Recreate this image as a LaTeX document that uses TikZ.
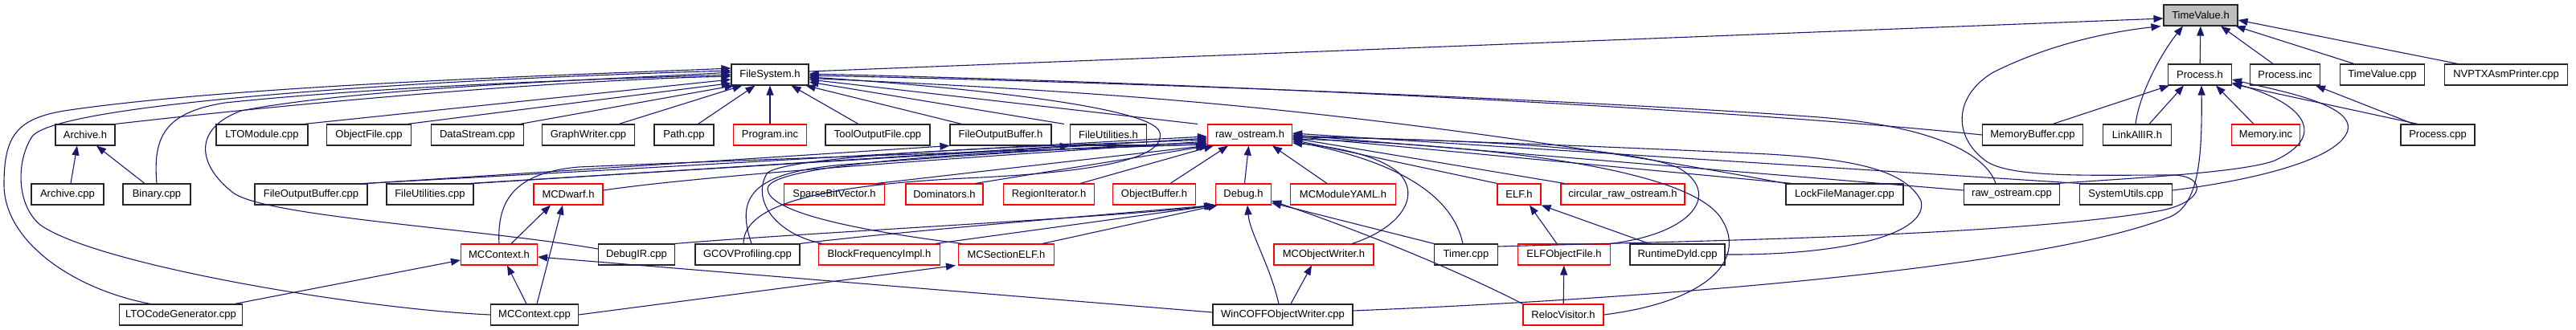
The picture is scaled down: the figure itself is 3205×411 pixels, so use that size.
\documentclass[tikz,border=0pt]{standalone}
\usepackage{fontspec}
\setmainfont{Liberation Sans}
\usetikzlibrary{arrows.meta,calc}
\definecolor{eb}{HTML}{191970}
\begin{document}
\begin{tikzpicture}[x=1pt,y=-1pt,
 nb/.style={draw=black!85, fill=white, line width=1.1pt, minimum height=26pt, inner sep=0pt, font=\fontsize{13}{15}\selectfont, minimum width=#1},
 rb/.style={nb=#1, draw=red},
 gb/.style={nb=#1, fill=black!25},
 e/.style={draw=eb, line width=1.1pt, -{Triangle[length=12pt,width=9pt]}}]
\useasboundingbox (0,0) rectangle (3205,411);
% row 1
\node[gb=92pt] (TV) at (2738,19) {TimeValue.h};
% row 2
\node[nb=96pt] (FS) at (958,93) {FileSystem.h};
\node[nb=79pt] (PH) at (2737,93) {Process.h};
\node[nb=87pt] (PI) at (2843,93) {Process.inc};
\node[nb=105pt] (TVC) at (2964,93) {TimeValue.cpp};
\node[nb=153pt] (NV) at (3118,93) {NVPTXAsmPrinter.cpp};
% row 3
\node[nb=74pt] (AH) at (106,168) {Archive.h};
\node[nb=114pt] (LTOM) at (326,168) {LTOModule.cpp};
\node[nb=105pt] (OF) at (459,168) {ObjectFile.cpp};
\node[nb=115pt] (DS) at (594,168) {DataStream.cpp};
\node[nb=115pt] (GW) at (732,168) {GraphWriter.cpp};
\node[nb=74pt] (PC) at (851,168) {Path.cpp};
\node[rb=91pt] (PRG) at (958,168) {Program.inc};
\node[nb=130pt] (TOF) at (1092,168) {ToolOutputFile.cpp};
\node[nb=126pt] (FOB) at (1245,168) {FileOutputBuffer.h};
\node[nb=95pt] (FU) at (1379,168) {FileUtilities.h};
\node[rb=105pt] (RO) at (1555,168) {raw\_ostream.h};
\node[nb=125pt] (MB) at (2529,168) {MemoryBuffer.cpp};
\node[nb=85pt] (LA) at (2659,168) {LinkAllIR.h};
\node[rb=85pt] (MI) at (2819,168) {Memory.inc};
\node[nb=92pt] (PCPP) at (3033,168) {Process.cpp};
% row 4
\node[nb=90pt] (AC) at (84,242) {Archive.cpp};
\node[nb=84pt] (BC) at (195,242) {Binary.cpp};
\node[nb=140pt] (FOBC) at (387,242) {FileOutputBuffer.cpp};
\node[nb=108pt] (FUC) at (535,242) {FileUtilities.cpp};
\node[rb=86pt] (MD) at (707,242) {MCDwarf.h};
\node[rb=125pt] (SBV) at (1038,242) {SparseBitVector.h};
\node[rb=96pt] (DOM) at (1175,242) {Dominators.h};
\node[rb=113pt] (RI) at (1305,242) {RegionIterator.h};
\node[rb=103pt] (OB) at (1436,242) {ObjectBuffer.h};
\node[rb=69pt] (DBG) at (1547,242) {Debug.h};
\node[rb=131pt] (MY) at (1671,242) {MCModuleYAML.h};
\node[rb=54pt] (ELF) at (1890,242) {ELF.h};
\node[rb=154pt] (CRO) at (2019,242) {circular\_raw\_ostream.h};
\node[nb=146pt] (LFM) at (2295,242) {LockFileManager.cpp};
\node[nb=119pt] (ROC) at (2503,242) {raw\_ostream.cpp};
\node[nb=115pt] (SU) at (2645,242) {SystemUtils.cpp};
% row 5
\node[rb=95pt] (MCH) at (621,317) {MCContext.h};
\node[nb=95pt] (DIR) at (792,317) {DebugIR.cpp};
\node[nb=130pt] (GCOV) at (930,317) {GCOVProfiling.cpp};
\node[rb=151pt] (BFI) at (1094,317) {BlockFrequencyImpl.h};
\node[rb=119pt] (MSE) at (1252,317) {MCSectionELF.h};
\node[rb=124pt] (MOW) at (1647,317) {MCObjectWriter.h};
\node[nb=79pt] (TIM) at (1824,317) {Timer.cpp};
\node[rb=115pt] (EOF) at (1946,317) {ELFObjectFile.h};
\node[nb=118pt] (RD) at (2087,317) {RuntimeDyld.cpp};
% row 6
\node[nb=153pt] (LTOC) at (225,392) {LTOCodeGenerator.cpp};
\node[nb=109pt] (MCC) at (665,392) {MCContext.cpp};
\node[nb=174pt] (WC) at (1596,392) {WinCOFFObjectWriter.cpp};
\node[rb=100pt] (RV) at (1945,392) {RelocVisitor.h};

% ---- edges into TimeValue.h
\draw[e] ($(FS.east)+(0,-4)$) -- ($(TV.west)+(0,4)$);
\draw[e] (PH) -- (TV);
\draw[e] ($(PI.north)+(-15,0)$) -- ($(TV.south)+(25,0)$);
\draw[e] ($(TVC.north)+(-35,0)$) -- ($(TV.south east)+(-3,0)$);
\draw[e] ($(NV.north)+(-60,0)$) -- ($(TV.east)+(0,6)$);
\draw[e] ($(LA.north)+(-2,0)$) .. controls (2662,115) and (2690,65) .. ($(TV.south)+(-22,0)$);
\draw[e] ($(TIM.east)+(0,-10)$) .. controls (2100,300) and (2500,295) .. (2690,262) .. controls (2745,250) and (2745,220) .. (2705,218) .. controls (2600,218) and (2500,222) .. (2470,200) .. controls (2430,170) and (2430,120) .. (2480,90) .. controls (2560,50) and (2640,38) .. ($(TV.south west)+(-3,0)$);
% ---- edges into Process.h / Process.inc
\draw[e] ($(WC.east)+(0,-5)$) .. controls (2100,370) and (2550,330) .. (2700,270) .. controls (2735,255) and (2740,200) .. ($(PH.south)+(2,0)$);
\draw[e] ($(MB.north)+(25,0)$) -- ($(PH.south west)+(2,0)$);
\draw[e] ($(LA.north)+(15,0)$) -- ($(PH.south)+(-20,0)$);
\draw[e] ($(MI.north)+(-15,0)$) -- ($(PH.south)+(20,0)$);
\draw[e] ($(PCPP.north)+(-25,0)$) -- ($(PH.south east)+(0,-2)$);
\draw[e] ($(ROC.north east)+(-3,0)$) .. controls (2650,222) and (2790,215) .. (2830,200) .. controls (2895,170) and (2870,130) .. ($(PH.east)+(0,10)$);
\draw[e] ($(SU.east)+(0,-5)$) .. controls (2800,225) and (2905,200) .. (2920,165) .. controls (2935,130) and (2830,112) .. ($(PH.east)+(0,6)$);
\draw[e] ($(PCPP.north)+(-30,0)$) -- ($(PI.south)+(38,0)$);
% ---- edges into FileSystem.h
\draw[e] (AH.north east) .. controls (400,125) and (700,100) .. ($(FS.west)+(0,2)$);
\draw[e] ($(LTOM.north east)+(-5,0)$) -- ($(FS.west)+(0,6)$);
\draw[e] ($(OF.north east)+(-5,0)$) -- ($(FS.south west)+(0,-3)$);
\draw[e] ($(DS.north east)+(-5,0)$) -- ($(FS.south west)+(4,0)$);
\draw[e] ($(GW.north east)+(-20,0)$) -- ($(FS.south west)+(14,0)$);
\draw[e] ($(PC.north east)+(-20,0)$) -- ($(FS.south west)+(30,0)$);
\draw[e] (PRG) -- (FS);
\draw[e] ($(TOF.north)+(-24,0)$) -- ($(FS.south east)+(-22,0)$);
\draw[e] ($(FOB.north west)+(15,0)$) -- ($(FS.south east)+(-4,0)$);
\draw[e] ($(FU.north west)+(-7,0)$) -- ($(FS.east)+(0,9)$);
\draw[e] ($(RO.north west)+(-12,0)$) -- ($(FS.east)+(0,6)$);
\draw[e] (BC.north) .. controls (190,170) and (205,140) .. (280,128) .. controls (500,105) and (800,97) .. (FS.west);
\draw[e] ($(DIR.west)+(0,-7)$) .. controls (600,285) and (330,270) .. (290,240) .. controls (245,205) and (240,160) .. (300,138) .. controls (450,108) and (800,97) .. ($(FS.west)+(0,-3)$);
\draw[e] ($(LTOC.north)+(-38,0)$) .. controls (90,360) and (5,300) .. (5,230) .. controls (5,170) and (20,148) .. (80,138) .. controls (300,105) and (750,92) .. ($(FS.west)+(0,-8)$);
\draw[e] (MCC.west) .. controls (450,385) and (120,330) .. (50,280) .. controls (20,255) and (20,200) .. (40,170) .. controls (70,130) and (500,100) .. ($(FS.west)+(0,-5)$);
\draw[e] ($(GCOV.north)+(-5,0)$) .. controls (925,260) and (1000,232) .. (1200,222) .. controls (1380,214) and (1450,195) .. (1443,165) .. controls (1435,130) and (1150,105) .. ($(FS.east)+(0,3)$);
\draw[e] (MB.west) .. controls (2200,140) and (1600,106) .. ($(FS.east)+(0,-1)$);
\draw[e] ($(ROC.north)+(-20,0)$) .. controls (2470,190) and (2400,155) .. (2250,145) .. controls (1900,120) and (1300,100) .. ($(FS.east)+(0,1)$);
\draw[e] (LFM.north west) .. controls (2150,215) and (1800,150) .. (1400,120) .. controls (1200,105) and (1050,100) .. ($(FS.east)+(0,4)$);
% ---- edges into raw_ostream.h
\draw[e] ($(FOBC.north east)+(-5,0)$) .. controls (800,210) and (1300,180) .. ($(RO.west)+(0,2)$);
\draw[e] (FOBC.north east) -- (FOB.south west);
\draw[e] (FUC.north east) -- (FU.south west);
\draw[e] ($(FUC.north east)+(-5,0)$) .. controls (800,215) and (1300,185) .. ($(RO.west)+(0,4)$);
\draw[e] ($(MD.east)+(0,-5)$) .. controls (900,215) and (1300,190) .. ($(RO.west)+(0,8)$);
\draw[e] (MCH.north) .. controls (618,250) and (640,215) .. (720,208) .. controls (1000,196) and (1350,185) .. ($(RO.south west)+(0,-2)$);
\draw[e] ($(GCOV.north)+(5,0)$) .. controls (915,245) and (935,215) .. (1050,205) .. controls (1250,190) and (1400,180) .. ($(RO.west)+(0,10)$);
\draw[e] ($(BFI.north west)+(5,0)$) .. controls (960,290) and (935,245) .. (955,215) .. controls (990,190) and (1350,180) .. ($(RO.west)+(0,6)$);
\draw[e] ($(MSE.north west)+(5,0)$) .. controls (1050,285) and (955,262) .. (955,235) .. controls (955,200) and (1300,185) .. ($(RO.west)+(0,12)$);
\draw[e] ($(SBV.north east)+(-10,0)$) -- ($(RO.south west)+(-2,0)$);
\draw[e] ($(DOM.north east)+(-10,0)$) -- ($(RO.south west)+(2,0)$);
\draw[e] ($(RI.north east)+(-18,0)$) -- ($(RO.south west)+(8,0)$);
\draw[e] ($(OB.north)+(20,0)$) -- ($(RO.south)+(-27,0)$);
\draw[e] (DBG) -- (RO);
\draw[e] ($(MY.north)+(-20,0)$) -- ($(RO.south east)+(-25,0)$);
\draw[e] (ELF.north west) -- ($(RO.east)+(0,6)$);
\draw[e] ($(CRO.north west)+(5,0)$) -- ($(RO.east)+(0,4)$);
\draw[e] ($(LFM.north west)+(8,0)$) -- ($(RO.east)+(0,2)$);
\draw[e] ($(ROC.west)+(0,-5)$) -- ($(RO.east)+(0,0)$);
\draw[e] (SU.north west) -- ($(RO.east)+(0,-2)$);
\draw[e] ($(MOW.north)+(35,0)$) .. controls (1740,285) and (1770,245) .. (1740,215) .. controls (1710,190) and (1650,182) .. ($(RO.east)+(0,10)$);
\draw[e] ($(TIM.north)+(-4,0)$) .. controls (1810,255) and (1760,205) .. ($(RO.east)+(0,8)$);
\draw[e] (EOF.north east) .. controls (2110,290) and (2140,240) .. (2090,210) .. controls (2030,180) and (1750,172) .. ($(RO.east)+(0,3)$);
\draw[e] (RV.east) .. controls (2130,375) and (2175,320) .. (2140,270) .. controls (2090,200) and (1780,178) .. ($(RO.east)+(0,5)$);
\draw[e] (RD.east) .. controls (2300,318) and (2400,290) .. (2390,250) .. controls (2370,210) and (2300,198) .. (2200,192) .. controls (1950,180) and (1700,172) .. ($(RO.east)+(0,1)$);
% ---- edges into Debug.h
\draw[e] (DIR.north east) .. controls (1000,290) and (1400,270) .. ($(DBG.south west)+(-2,0)$);
\draw[e] (GCOV.north east) .. controls (1100,290) and (1400,265) .. (DBG.south west);
\draw[e] ($(BFI.north)+(70,0)$) -- ($(DBG.south west)+(1,0)$);
\draw[e] ($(MSE.north east)+(-15,0)$) -- ($(DBG.south west)+(3,0)$);
\draw[e] ($(WC.north)+(-5,0)$) .. controls (1580,330) and (1555,290) .. ($(DBG.south)+(5,0)$);
\draw[e] (TIM.north west) -- ($(DBG.south east)+(0,-3)$);
\draw[e] (RV.north west) .. controls (1820,340) and (1700,290) .. ($(DBG.east)+(0,8)$);
% ---- MC* and others
\draw[e] ($(LTOC.north east)+(-10,0)$) -- ($(MCH.west)+(0,7)$);
\draw[e] ($(MCC.north)+(-10,0)$) -- ($(MCH.south)+(10,0)$);
\draw[e] ($(WC.west)+(0,-3)$) -- ($(MCH.east)+(0,3)$);
\draw[e] ($(MCH.north)+(15,0)$) -- ($(MD.south)+(-22,0)$);
\draw[e] ($(MCC.north)+(3,0)$) -- ($(MD.south)+(-7,0)$);
\draw[e] (MCC.east) -- ($(MSE.south west)+(-3,0)$);
\draw[e] ($(WC.north)+(10,0)$) -- ($(MOW.south)+(-15,0)$);
\draw[e] ($(EOF.north)+(-9,0)$) -- ($(ELF.south)+(13,0)$);
\draw[e] ($(RD.north)+(-35,0)$) -- (ELF.south east);
\draw[e] (RV) -- (EOF);
\draw[e] ($(AC.north)+(4,0)$) -- ($(AH.south)+(-10,0)$);
\draw[e] ($(BC.north)+(-15,0)$) -- ($(AH.south)+(14,0)$);
\end{tikzpicture}
\end{document}
